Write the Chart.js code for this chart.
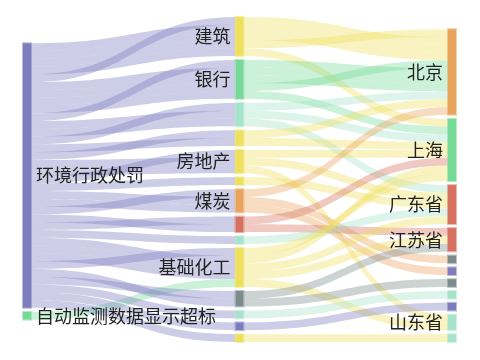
<!DOCTYPE html>
<html>
<head>
<meta charset="utf-8">
<script src="https://cdn.jsdelivr.net/npm/chart.js@4/dist/chart.umd.min.js"></script>
<style>
  html, body { margin: 0; padding: 0; background: #fff; }
  #wrap { width: 480px; height: 360px; }
</style>
</head>
<body>
<div id="wrap"><canvas id="chart"></canvas></div>
<script>
// Sankey: penalty type -> industry -> province
// Nodes listed top to bottom inside each column, '' = node without a label.

const penaltyTypes = ['环境行政处罚', '自动监测数据显示超标'];
const industries = ['建筑', '银行', '', '', '房地产', '', '煤炭', '', '', '基础化工', '', '', '', ''];
const provinces = ['北京', '上海', '广东省', '江苏省', '', '', '', '', '', '山东省', ''];

// [from, to, cases] - each case is drawn as its own band of value 1
const penaltyToIndustry = [
    [0, 0, 5], [0, 1, 5], [0, 2, 3], [0, 3, 2], [0, 4, 3], [0, 5, 1], [0, 6, 3],
    [0, 7, 2], [0, 8, 1], [0, 9, 4], [1, 9, 1], [0, 10, 2], [0, 11, 1], [0, 12, 1], [0, 13, 1],
];
const industryToProvince = [
    [0, 0, 4], [0, 1, 1],
    [1, 0, 4], [1, 1, 1],
    [2, 0, 1], [2, 1, 1], [2, 2, 1],
    [3, 0, 1], [3, 1, 1],
    [4, 1, 1], [4, 2, 1], [4, 9, 1],
    [5, 2, 1],
    [6, 0, 1], [6, 4, 1], [6, 5, 1],
    [7, 1, 1], [7, 3, 1],
    [8, 2, 1],
    [9, 1, 2], [9, 2, 1], [9, 3, 1], [9, 9, 1],
    [10, 3, 1], [10, 6, 1],
    [11, 7, 1],
    [12, 8, 1],
    [13, 10, 1],
];

// --- styles ---
const C = {
    purple: '#7c7cbf',
    green: '#75da98',
    yellow: '#eee05b',
    orange: '#e9a45c',
    red: '#d6705f',
    teal: '#a6e3cb',
    grey: '#7c8c8c',
};
const columnColors = [
    [C.purple, C.green],
    [C.yellow, C.green, C.teal, C.yellow, C.yellow, C.yellow, C.orange, C.red, C.teal, C.yellow, C.grey, C.teal, C.purple, C.yellow],
    [C.orange, C.green, C.red, C.red, C.grey, C.purple, C.grey, C.teal, C.purple, C.teal, C.teal],
];
const NODE_W = 8;          // px
const NODE_GAP = 0.52;     // in value units
const COLUMN_ALIGN = [0.54, 0, 1];
const LINK_ALPHA = 0.38;
const LABEL_FONT = "18px 'Noto Sans CJK SC', 'Noto Sans', sans-serif";

const columns = [penaltyTypes, industries, provinces];
const linkSets = [penaltyToIndustry, industryToProvince];

function buildGraph() {
    const nodes = columns.map((names, c) => names.map((name, i) => ({
        c, i, name, color: columnColors[c][i], outs: [], ins: [], value: 0,
    })));
    const links = [];
    linkSets.forEach((list, c) => {
        list.forEach(([f, t, n]) => {
            for (let k = 0; k < n; k++) {
                const link = { from: nodes[c][f], to: nodes[c + 1][t], k, n };
                links.push(link);
                link.from.outs.push(link);
                link.to.ins.push(link);
            }
        });
    });
    nodes.flat().forEach(nd => { nd.value = Math.max(nd.outs.length, nd.ins.length); });
    return { nodes, links };
}

const graph = buildGraph();
const spans = graph.nodes.map(col => col.reduce((s, nd) => s + nd.value, 0) + (col.length - 1) * NODE_GAP);
const fullSpan = Math.max(...spans);

// stack nodes in value units, then order the bands on each side
graph.nodes.forEach((col, c) => {
    let pos = (fullSpan - spans[c]) * COLUMN_ALIGN[c];
    col.forEach(nd => { nd.y0 = pos; pos += nd.value; nd.y1 = pos; pos += NODE_GAP; });
});
// the last case of a repeated pair lands on top at the target, crossing the others
const arrival = l => (l.k + 1) % l.n;
graph.nodes.flat().forEach(nd => {
    nd.outs.sort((a, b) => a.to.i - b.to.i || a.k - b.k);
    nd.ins.sort((a, b) => a.from.i - b.from.i || arrival(a) - arrival(b));
    nd.outs.forEach((l, j) => { l.sy = nd.y0 + j; });
    nd.ins.forEach((l, j) => { l.ty = nd.y0 + j; });
});

function withAlpha(hex, a) {
    const n = parseInt(hex.slice(1), 16);
    return `rgba(${n >> 16},${(n >> 8) & 255},${n & 255},${a})`;
}

const sankeyPlugin = {
    id: 'sankey',
    afterDatasetsDraw(chart) {
        const { ctx, scales: { x, y } } = chart;
        ctx.save();

        // bands
        graph.links.forEach(l => {
            const x0 = x.getPixelForValue(l.from.c) + NODE_W;
            const x1 = x.getPixelForValue(l.to.c);
            const mx = (x0 + x1) / 2;
            const s0 = y.getPixelForValue(l.sy), s1 = y.getPixelForValue(l.sy + 1);
            const t0 = y.getPixelForValue(l.ty), t1 = y.getPixelForValue(l.ty + 1);
            ctx.beginPath();
            ctx.moveTo(x0, s0);
            ctx.bezierCurveTo(mx, s0, mx, t0, x1, t0);
            ctx.lineTo(x1, t1);
            ctx.bezierCurveTo(mx, t1, mx, s1, x0, s1);
            ctx.closePath();
            ctx.fillStyle = withAlpha(l.from.color, LINK_ALPHA);
            ctx.fill();
        });

        // nodes
        graph.nodes.flat().forEach(nd => {
            const px = x.getPixelForValue(nd.c);
            const top = y.getPixelForValue(nd.y0);
            const h = y.getPixelForValue(nd.y1) - top;
            ctx.fillStyle = nd.color;
            ctx.fillRect(px, top, NODE_W, h);
            ctx.strokeStyle = withAlpha(nd.color, 0.5);
            ctx.lineWidth = 1;
            ctx.strokeRect(px - 0.5, top - 0.5, NODE_W + 1, h + 1);
        });

        // labels
        ctx.font = LABEL_FONT;
        ctx.fillStyle = '#222';
        ctx.textBaseline = 'middle';
        graph.nodes.flat().forEach(nd => {
            if (!nd.name) return;
            const px = x.getPixelForValue(nd.c);
            const cy = y.getPixelForValue((nd.y0 + nd.y1) / 2);
            if (nd.c === 0) {
                ctx.textAlign = 'left';
                ctx.fillText(nd.name, px + NODE_W + 5, cy);
            } else {
                ctx.textAlign = 'right';
                ctx.fillText(nd.name, px - 5, cy);
            }
        });
        ctx.restore();
    },
};

new Chart(document.getElementById('chart'), {
    type: 'scatter',
    data: { datasets: [{ data: [], pointRadius: 0 }] },
    options: {
        responsive: true,
        maintainAspectRatio: false,
        animation: false,
        layout: { padding: { top: 17, bottom: 18, left: 23, right: 32 } },
        plugins: { legend: { display: false }, tooltip: { enabled: false } },
        scales: {
            x: { type: 'linear', min: 0, max: columns.length - 1, display: false },
            y: { type: 'linear', min: 0, max: fullSpan, reverse: true, display: false },
        },
    },
    plugins: [sankeyPlugin],
});
</script>
</body>
</html>
